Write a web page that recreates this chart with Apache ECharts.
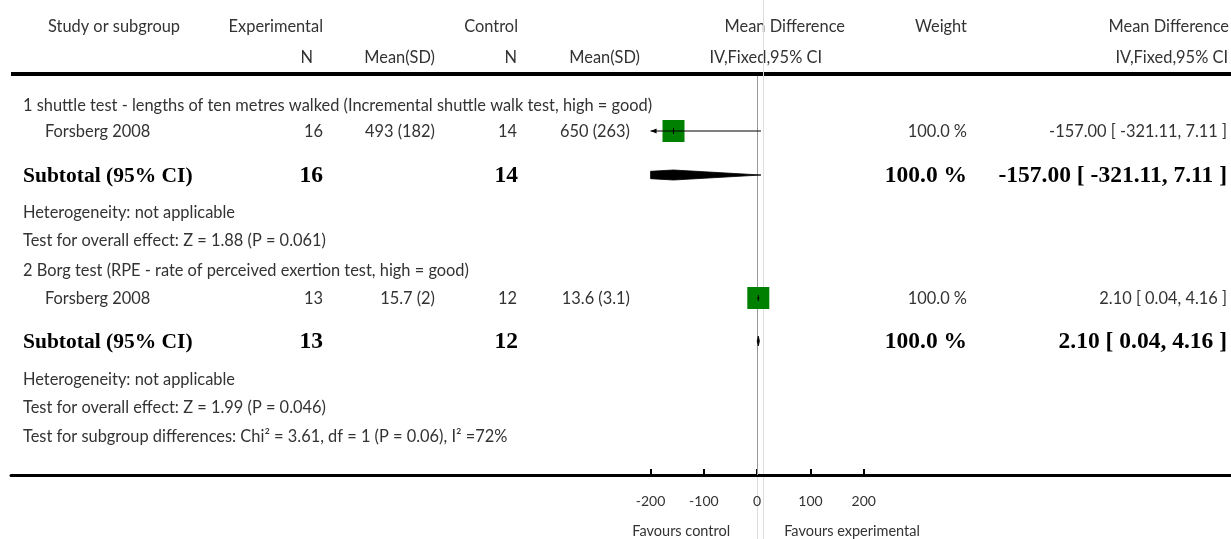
<!DOCTYPE html>
<html><head><meta charset="utf-8">
<script src="https://cdn.jsdelivr.net/npm/echarts@6/dist/echarts.min.js"></script>
<style>html,body{margin:0;padding:0;background:#fff}#c{width:1231px;height:539px}</style>
</head><body><div id="c"></div>
<script>
// ---------------- DATA ----------------
const subgroupTitles = [
  '1 shuttle test - lengths of ten metres walked (Incremental shuttle walk test, high = good)',
  '2 Borg test (RPE - rate of perceived exertion test, high = good)'
];
const studyNames = ['Forsberg 2008', 'Forsberg 2008'];
const expN = [16, 13];
const expMeanSD = ['493 (182)', '15.7 (2)'];
const ctrlN = [14, 12];
const ctrlMeanSD = ['650 (263)', '13.6 (3.1)'];
const studyMD = [-157.00, 2.10];
const studyLo = [-321.11, 0.04];
const studyHi = [7.11, 4.16];
const studyWeight = [100.0, 100.0];
const subtotalExpN = [16, 13];
const subtotalCtrlN = [14, 12];
const subtotalMD = [-157.00, 2.10];
const subtotalLo = [-321.11, 0.04];
const subtotalHi = [7.11, 4.16];
const subtotalWeight = [100.0, 100.0];
const heterogeneityText = ['Heterogeneity: not applicable', 'Heterogeneity: not applicable'];
const overallEffectText = ['Test for overall effect: Z = 1.88 (P = 0.061)', 'Test for overall effect: Z = 1.99 (P = 0.046)'];
const subgroupDiffText = 'Test for subgroup differences: Chi\u00B2 = 3.61, df = 1 (P = 0.06), I\u00B2 =72%';
const xTicks = [-200, -100, 0, 100, 200];
const favoursLabels = ['Favours control', 'Favours experimental'];
const headerRow1 = ['Study or subgroup', 'Experimental', 'Control', 'Mean Difference', 'Weight', 'Mean Difference'];
const headerRow2 = ['N', 'Mean(SD)', 'N', 'Mean(SD)', 'IV,Fixed,95% CI', 'IV,Fixed,95% CI'];

// ---------------- LAYOUT ----------------
const W = 1231, H = 539;
const AXIS_Y = 475, RULE_Y = 74;
const SHOW_MIN = -200, SHOW_MAX = 200;
const ROWS = [
  {title: 106, study: 132, subtotal: 176, het: 213, eff: 241},
  {title: 271, study: 299, subtotal: 342, het: 380, eff: 408}
];
const MARK_Y = [{study: 131, subtotal: 175}, {study: 298, subtotal: 341}];
const DIFF_ROW = 437;
const H1 = 27, H2 = 58;
const LIGHT = {fam: 'Lato, "Open Sans", sans-serif', size: 16.4, color: '#333'};
const BOLD = {fam: '"Liberation Serif", "DejaVu Serif", serif', size: 21.5, color: '#000'};
const BOLD_NUM = 23.5;

const fmt2 = v => v.toFixed(2);
const ciText = (m, l, h) => fmt2(m) + ' [ ' + fmt2(l) + ', ' + fmt2(h) + ' ]';
const wText = w => w.toFixed(1) + ' %';

function txt(x, y, text, align, bold, size) {
  const f = bold ? BOLD : LIGHT;
  return {
    type: 'text', x: x, y: y, silent: true,
    style: {
      text: String(text), align: align, verticalAlign: 'middle',
      fontFamily: f.fam, fontSize: size || f.size, fontWeight: bold ? 'bold' : 'normal', fill: f.color
    }
  };
}

const graphics = [];
const h1x = [[48, 'left'], [323, 'right'], [518, 'right'], [845, 'right'], [967, 'right'], [1229, 'right']];
headerRow1.forEach((t, i) => graphics.push(txt(h1x[i][0], H1, t, h1x[i][1], false)));
const h2x = [313, 435, 517, 640, 822, 1228];
headerRow2.forEach((t, i) => graphics.push(txt(h2x[i], H2, t, 'right', false)));
graphics.push({type: 'line', silent: true, shape: {x1: 11, y1: RULE_Y, x2: W, y2: RULE_Y}, style: {stroke: '#000', lineWidth: 4}});

subgroupTitles.forEach((title, g) => {
  const r = ROWS[g];
  graphics.push(txt(23, r.title, title, 'left', false));
  graphics.push(txt(45, r.study, studyNames[g], 'left', false));
  graphics.push(txt(323, r.study, expN[g], 'right', false));
  graphics.push(txt(435, r.study, expMeanSD[g], 'right', false));
  graphics.push(txt(517, r.study, ctrlN[g], 'right', false));
  graphics.push(txt(630, r.study, ctrlMeanSD[g], 'right', false));
  graphics.push(txt(967, r.study, wText(studyWeight[g]), 'right', false));
  graphics.push(txt(1227, r.study, ciText(studyMD[g], studyLo[g], studyHi[g]), 'right', false));
  graphics.push(txt(23, r.subtotal, 'Subtotal (95% CI)', 'left', true));
  graphics.push(txt(323, r.subtotal, subtotalExpN[g], 'right', true, BOLD_NUM));
  graphics.push(txt(518, r.subtotal, subtotalCtrlN[g], 'right', true, BOLD_NUM));
  graphics.push(txt(967, r.subtotal, wText(subtotalWeight[g]), 'right', true, BOLD_NUM));
  graphics.push(txt(1227, r.subtotal, ciText(subtotalMD[g], subtotalLo[g], subtotalHi[g]), 'right', true, BOLD_NUM));
  graphics.push(txt(23, r.het, heterogeneityText[g], 'left', false));
  graphics.push(txt(23, r.eff, overallEffectText[g], 'left', false));
});
graphics.push(txt(23, DIFF_ROW, subgroupDiffText, 'left', false));

// ---------------- SERIES ----------------
function renderCI(params, api) {
  const m = api.value(0), l = api.value(1), h = api.value(2), y = api.value(3);
  const lc = Math.max(l, SHOW_MIN), hc = Math.min(h, SHOW_MAX);
  const p1 = api.coord([lc, y]), p2 = api.coord([hc, y]), pm = api.coord([m, y]);
  const ch = [{type: 'line', shape: {x1: p1[0], y1: p1[1], x2: p2[0], y2: p2[1]}, style: {stroke: '#000', lineWidth: 1.2}}];
  if (l < SHOW_MIN) ch.push({type: 'polygon', shape: {points: [[p1[0], p1[1]], [p1[0] + 6, p1[1] - 2.5], [p1[0] + 6, p1[1] + 2.5]]}, style: {fill: '#000'}});
  if (h > SHOW_MAX) ch.push({type: 'polygon', shape: {points: [[p2[0], p2[1]], [p2[0] - 6, p2[1] - 2.5], [p2[0] - 6, p2[1] + 2.5]]}, style: {fill: '#000'}});
  ch.push({type: 'line', shape: {x1: pm[0], y1: pm[1] - 3, x2: pm[0], y2: pm[1] + 3}, style: {stroke: '#000', lineWidth: 1}});
  return {type: 'group', children: ch};
}
function renderDiamond(params, api) {
  const m = api.value(0), l = api.value(1), h = api.value(2), y = api.value(3);
  const HH = 5;
  const lc = Math.max(l, SHOW_MIN), hc = Math.min(h, SHOW_MAX);
  const pl = api.coord([lc, y]), pm = api.coord([m, y]), ph = api.coord([hc, y]);
  const hl = l < SHOW_MIN ? HH * (lc - l) / (m - l) : 0;
  const hh = h > SHOW_MAX ? HH * (h - hc) / (h - m) : 0;
  const py = pm[1];
  return {type: 'polygon', shape: {points: [
    [pl[0], py - hl], [pm[0], py - HH], [ph[0], py - hh], [ph[0], py + hh], [pm[0], py + HH], [pl[0], py + hl]
  ]}, style: {fill: '#000', stroke: '#000', lineWidth: 0.8}};
}
function renderZero(params, api) {
  const a = api.coord([api.value(0), api.value(1)]), b = api.coord([api.value(0), api.value(2)]);
  return {type: 'line', shape: {x1: Math.round(a[0]) + 0.5, y1: a[1], x2: Math.round(a[0]) + 0.5, y2: b[1]}, style: {stroke: '#999', lineWidth: 1}};
}

const chart = echarts.init(document.getElementById('c'), null, {renderer: 'canvas'});
const option = {
  animation: false,
  backgroundColor: '#fff',
  grid: {left: 11, right: 0, top: 0, bottom: H - AXIS_Y},
  xAxis: {
    type: 'value', min: -1400, max: 889,
    axisLine: {show: true, onZero: false, lineStyle: {color: '#000', width: 3}},
    axisTick: {show: true, inside: true, length: 6, customValues: xTicks, lineStyle: {color: '#000', width: 2}},
    axisLabel: {show: true, customValues: xTicks, margin: 19, color: '#333', fontFamily: LIGHT.fam, fontSize: 14},
    splitLine: {show: false}
  },
  yAxis: {type: 'value', min: 0, max: AXIS_Y, inverse: true, show: false},
  series: [
    {type: 'custom', name: 'zero', renderItem: renderZero, data: [[0, RULE_Y + 2, AXIS_Y]], encode: {x: 0, y: [1, 2]}, z: 1, silent: true},
    {type: 'scatter', name: 'studies', symbol: 'rect',
      data: studyMD.map((m, i) => [m, MARK_Y[i].study, studyWeight[i]]),
      symbolSize: v => 22 * Math.sqrt(v[2] / 100),
      itemStyle: {color: '#008000', opacity: 1}, z: 2, silent: true},
    {type: 'custom', name: 'ci', renderItem: renderCI,
      data: studyMD.map((m, i) => [m, studyLo[i], studyHi[i], MARK_Y[i].study]),
      encode: {x: [0, 1, 2], y: 3}, z: 3, silent: true},
    {type: 'custom', name: 'subtotal', renderItem: renderDiamond,
      data: subtotalMD.map((m, i) => [m, subtotalLo[i], subtotalHi[i], MARK_Y[i].subtotal]),
      encode: {x: [0, 1, 2], y: 3}, z: 3, silent: true}
  ],
  graphic: graphics
};
chart.setOption(option);
const px0 = chart.convertToPixel({xAxisIndex: 0}, 0);
const extra = graphics.slice();
extra.push({type: 'line', silent: true, z: 0, shape: {x1: Math.round(px0) + 6.5, y1: 0, x2: Math.round(px0) + 6.5, y2: H}, style: {stroke: '#ddd', lineWidth: 1}});
extra.push({type: 'line', silent: true, z: 0, shape: {x1: Math.round(px0) + 0.5, y1: AXIS_Y + 2, x2: Math.round(px0) + 0.5, y2: H}, style: {stroke: '#ddd', lineWidth: 1}});
extra.push(txt(px0 - 27, 531, favoursLabels[0], 'right', false, 14.5));
extra.push(txt(px0 + 27, 531, favoursLabels[1], 'left', false, 14.5));
chart.setOption({graphic: extra}, {replaceMerge: ['graphic']});
</script>
</body></html>
